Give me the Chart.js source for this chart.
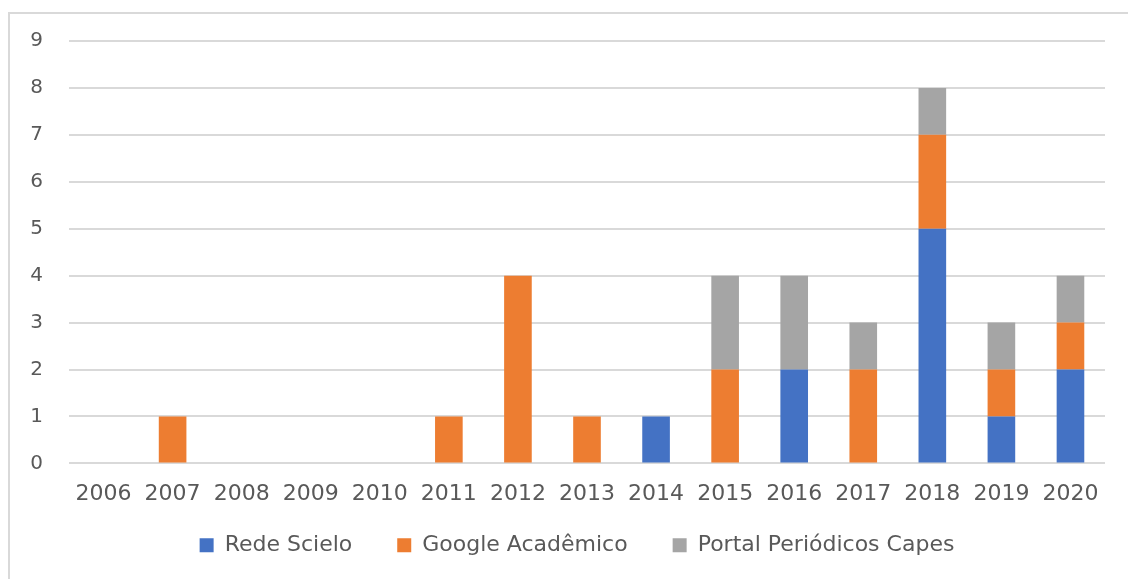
<!DOCTYPE html>
<html>
<head>
<meta charset="utf-8">
<script src="https://cdn.jsdelivr.net/npm/chart.js@4.4.1/dist/chart.umd.min.js"></script>
<style>
  html, body { margin: 0; padding: 0; background: #fff; }
  #wrap { position: relative; width: 1128px; height: 579px; }
</style>
</head>
<body>
<div id="wrap"><canvas id="chart" width="1128" height="579"></canvas></div>
<script>
// data
const years = ['2006', '2007', '2008', '2009', '2010', '2011', '2012', '2013', '2014', '2015', '2016', '2017', '2018', '2019', '2020'];
const redeScielo = [0, 0, 0, 0, 0, 0, 0, 0, 1, 0, 2, 0, 5, 1, 2];
const googleAcademico = [0, 1, 0, 0, 0, 1, 4, 1, 0, 2, 0, 2, 2, 1, 1];
const portalCapes = [0, 0, 0, 0, 0, 0, 0, 0, 0, 2, 2, 1, 1, 1, 1];
const seriesNames = ['Rede Scielo', 'Google Acadêmico', 'Portal Periódicos Capes'];

const textColor = '#595959';
const gridColor = '#d9d9d9';
const fontFamily = '"DejaVu Sans", sans-serif';

// outer frame like the office chart border
const framePlugin = {
    id: 'frame',
    beforeDraw(chart) {
        const ctx = chart.ctx;
        ctx.save();
        ctx.fillStyle = '#fff';
        ctx.fillRect(0, 0, chart.width, chart.height);
        ctx.strokeStyle = gridColor;
        ctx.lineWidth = 2;
        ctx.strokeRect(9, 13, chart.width + 10, chart.height + 10);
        ctx.restore();
    }
};

const ctx = document.getElementById('chart').getContext('2d');
new Chart(ctx, {
    type: 'bar',
    data: {
        labels: years,
        datasets: [{
            label: seriesNames[0],
            data: redeScielo,
            backgroundColor: '#4472c4'
        }, {
            label: seriesNames[1],
            data: googleAcademico,
            backgroundColor: '#ed7d31'
        }, {
            label: seriesNames[2],
            data: portalCapes,
            backgroundColor: '#a5a5a5'
        }]
    },
    options: {
        responsive: false,
        animation: false,
        layout: {
            padding: { left: 26, right: 0, top: 41, bottom: 12.8 }
        },
        datasets: {
            bar: { categoryPercentage: 1, barPercentage: 0.4 }
        },
        scales: {
            x: {
                stacked: true,
                afterFit: (scale) => {
                    scale.height = 25.8;
                    // labels hang below the squeezed axis box, so don't clip them
                    scale._computeLabelArea = () => undefined;
                },
                grid: { display: false },
                border: { display: false },
                ticks: {
                    color: textColor,
                    font: { family: fontFamily, size: 22 },
                    padding: 10,
                    maxRotation: 0
                }
            },
            y: {
                stacked: true,
                min: 0,
                max: 9,
                afterFit: (scale) => { scale.width = 43; },
                grid: { color: gridColor, lineWidth: 2, drawTicks: false },
                border: { display: false },
                ticks: {
                    stepSize: 1,
                    color: textColor,
                    font: { family: fontFamily, size: 20 },
                    padding: 26
                }
            },
            // empty right-hand spacer so the legend centres like the original
            spacer: {
                type: 'linear',
                position: 'right',
                afterFit: (scale) => { scale.width = 23; },
                grid: { display: false },
                border: { display: false },
                ticks: { display: false }
            }
        },
        plugins: {
            legend: {
                position: 'bottom',
                labels: {
                    color: textColor,
                    font: { family: fontFamily, size: 22 },
                    boxWidth: 14,
                    boxHeight: 14,
                    padding: 45
                }
            },
            tooltip: { enabled: false }
        }
    },
    plugins: [framePlugin]
});
</script>
</body>
</html>
